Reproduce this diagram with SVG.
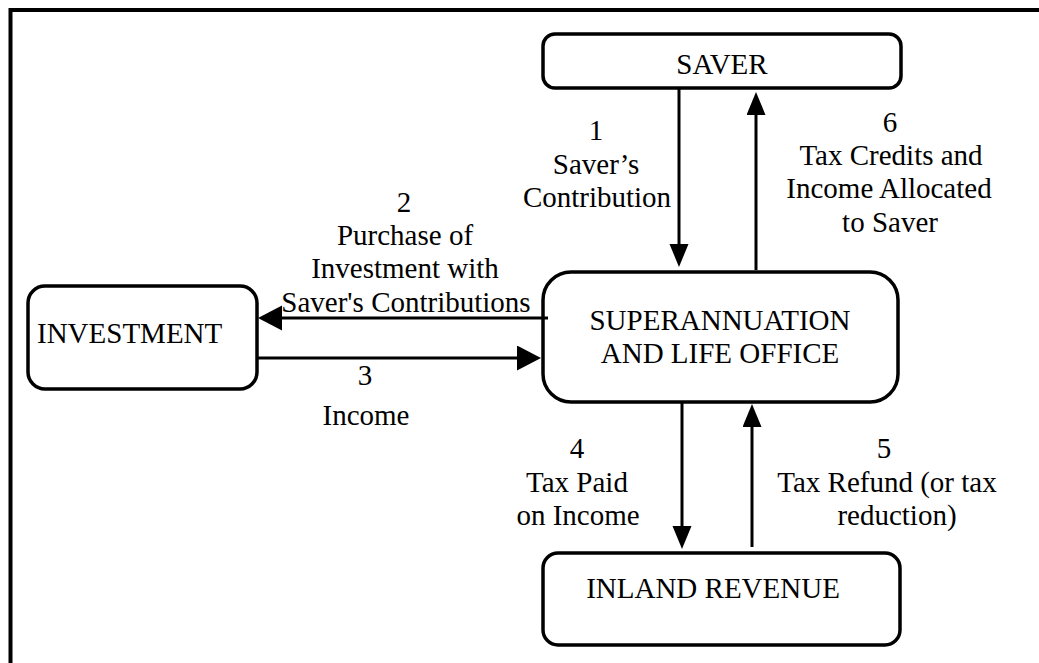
<svg xmlns="http://www.w3.org/2000/svg" width="1039" height="663" viewBox="0 0 1039 663">
<style>
.box{fill:#fff;stroke:#000;stroke-width:3.5}
.t{font-family:"Liberation Serif","Times New Roman",serif;font-size:29px;fill:#000;text-anchor:middle}
.c{stroke:#000;stroke-width:3;fill:none}
</style>
<defs>
<marker id="hv" markerUnits="userSpaceOnUse" markerWidth="24" markerHeight="20" refX="1" refY="9.5" orient="auto"><path d="M0,0 L23,9.5 L0,19 z" fill="#000"/></marker>
<marker id="hh" markerUnits="userSpaceOnUse" markerWidth="25" markerHeight="26" refX="1" refY="12.5" orient="auto"><path d="M0,0 L24,12.5 L0,25 z" fill="#000"/></marker>
</defs>
<rect width="1039" height="663" fill="#fff"/>
<path d="M10.5,663 V10 H1039" fill="none" stroke="#000" stroke-width="4"/>
<g id="saver">
<rect class="box" x="543" y="34" width="358" height="54" rx="12"/>
<text class="t" x="722" y="74">SAVER</text>
</g>
<g id="super">
<rect class="box" x="543" y="272" width="355" height="130" rx="28"/>
<text class="t" x="720" y="330">SUPERANNUATION</text>
<text class="t" x="720" y="363">AND LIFE OFFICE</text>
</g>
<g id="investment">
<rect class="box" x="28" y="286" width="229" height="103" rx="17"/>
<text class="t" x="37" y="343" style="text-anchor:start">INVESTMENT</text>
</g>
<g id="inland">
<rect class="box" x="543" y="553" width="357" height="92" rx="15"/>
<text class="t" x="713" y="598">INLAND REVENUE</text>
</g>
<g id="connectors">
<line class="c" x1="679" y1="88" x2="679" y2="245" marker-end="url(#hv)"/>
<line class="c" x1="756" y1="270" x2="756" y2="114" marker-end="url(#hv)"/>
<line class="c" x1="548" y1="318" x2="281" y2="318" marker-end="url(#hh)"/>
<line class="c" x1="258" y1="358" x2="518" y2="358" marker-end="url(#hh)"/>
<line class="c" x1="682" y1="402" x2="682" y2="527" marker-end="url(#hv)"/>
<line class="c" x1="752" y1="547" x2="752" y2="426" marker-end="url(#hv)"/>
</g>
<g id="labels">
<text class="t" x="596" y="140">1</text>
<text class="t" x="596" y="174">Saver’s</text>
<text class="t" x="597" y="207">Contribution</text>
<text class="t" x="404" y="212">2</text>
<text class="t" x="405" y="245">Purchase of</text>
<text class="t" x="405" y="278">Investment with</text>
<text class="t" x="406" y="312">Saver's Contributions</text>
<text class="t" x="365" y="385">3</text>
<text class="t" x="366" y="425">Income</text>
<text class="t" x="577" y="458">4</text>
<text class="t" x="577" y="492">Tax Paid</text>
<text class="t" x="578" y="525">on Income</text>
<text class="t" x="884" y="458">5</text>
<text class="t" x="887" y="492">Tax Refund (or tax</text>
<text class="t" x="897" y="525">reduction)</text>
<text class="t" x="890" y="132">6</text>
<text class="t" x="891" y="165">Tax Credits and</text>
<text class="t" x="889" y="198">Income Allocated</text>
<text class="t" x="890" y="232">to Saver</text>
</g>
</svg>
